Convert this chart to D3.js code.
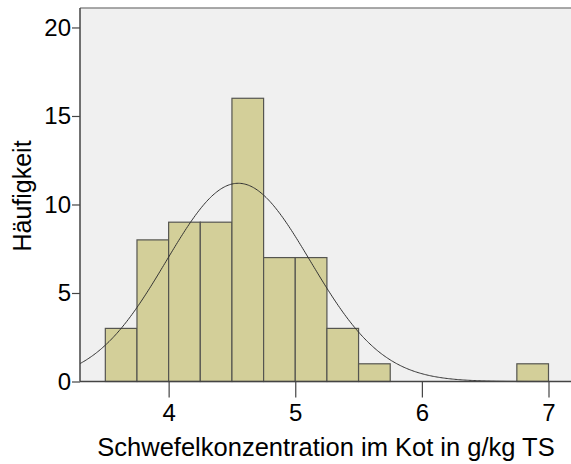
<!DOCTYPE html>
<html>
<head>
<meta charset="utf-8">
<script src="https://cdn.jsdelivr.net/npm/d3@7"></script>
<style>
  html, body { margin: 0; padding: 0; background: #ffffff; }
  svg { display: block; }
  text { font-family: "Liberation Sans", Arial, sans-serif; fill: #000; }
</style>
</head>
<body>
<svg id="chart" width="571" height="464"></svg>
<script>
// Histogram of sulphur concentration in faeces (bins of 0.25 g/kg DM)
const binStarts = [3.50, 3.75, 4.00, 4.25, 4.50, 4.75, 5.00, 5.25, 5.50, 5.75, 6.00, 6.25, 6.50, 6.75];
const binCounts = [3, 8, 9, 9, 16, 7, 7, 3, 1, 0, 0, 0, 0, 1];
const binWidth = 0.25;

// Fitted normal distribution
const fitMean = 4.55;
const fitSd = 0.57;

const xTicks = [4, 5, 6, 7];
const yTicks = [0, 5, 10, 15, 20];

const xTitle = "Schwefelkonzentration im Kot in g/kg TS";
const yTitle = "Häufigkeit";

const W = 571, H = 464;
const plot = { left: 80, top: 8, right: 571, bottom: 381.5 };

const svg = d3.select("#chart");

const x = d3.scaleLinear().domain([3.3, 7.0]).range([plot.left, 548.5]);
const y = d3.scaleLinear().domain([0, 21.1]).range([plot.bottom, plot.top]);

// plot background
svg.append("rect")
  .attr("x", plot.left).attr("y", plot.top)
  .attr("width", plot.right - plot.left).attr("height", plot.bottom - plot.top)
  .attr("fill", "#f0f0f0");

// top frame line
svg.append("line")
  .attr("x1", plot.left).attr("x2", plot.right)
  .attr("y1", plot.top).attr("y2", plot.top)
  .attr("stroke", "#8c8c8c").attr("stroke-width", 1.5);

// bars
const bins = binStarts.map((s, i) => ({ x0: s, x1: s + binWidth, n: binCounts[i] }))
  .filter(d => d.n > 0);

svg.append("g").selectAll("rect")
  .data(bins)
  .join("rect")
  .attr("x", d => x(d.x0))
  .attr("y", d => y(d.n))
  .attr("width", d => x(d.x1) - x(d.x0))
  .attr("height", d => y(0) - y(d.n))
  .attr("fill", "#d3cf99")
  .attr("stroke", "#555550")
  .attr("stroke-width", 1.2);

// normal curve scaled to the histogram
const nTotal = d3.sum(binCounts);
const normal = v => nTotal * binWidth / (fitSd * Math.sqrt(2 * Math.PI)) *
  Math.exp(-0.5 * Math.pow((v - fitMean) / fitSd, 2));
const xs = d3.range(x.domain()[0], x.invert(plot.right), 0.01);
svg.append("path")
  .datum(xs)
  .attr("fill", "none")
  .attr("stroke", "#333333")
  .attr("stroke-width", 1)
  .attr("d", d3.line().x(v => x(v)).y(v => y(normal(v))));

// x axis
const xAxis = svg.append("g")
  .attr("transform", `translate(0,${plot.bottom})`)
  .call(d3.axisBottom(x).tickValues(xTicks).tickFormat(d3.format("d"))
    .tickSize(16).tickPadding(6).tickSizeOuter(0));
xAxis.select(".domain").remove();
xAxis.selectAll(".tick line").attr("stroke", "#444").attr("stroke-width", 1.2);
xAxis.selectAll(".tick text").style("font-size", "24px")
  .style("font-family", "'Liberation Sans', Arial, sans-serif").attr("fill", "#000");
svg.append("line")
  .attr("x1", plot.left).attr("x2", plot.right)
  .attr("y1", plot.bottom).attr("y2", plot.bottom)
  .attr("stroke", "#444").attr("stroke-width", 1.5);

// y axis
const yAxis = svg.append("g")
  .attr("transform", `translate(${plot.left},0)`)
  .call(d3.axisLeft(y).tickValues(yTicks).tickFormat(d3.format("d"))
    .tickSize(8).tickPadding(1).tickSizeOuter(0));
yAxis.select(".domain").remove();
yAxis.selectAll(".tick line").attr("stroke", "#444").attr("stroke-width", 1.2);
yAxis.selectAll(".tick text").style("font-size", "24px")
  .style("font-family", "'Liberation Sans', Arial, sans-serif").attr("fill", "#000");
svg.append("line")
  .attr("x1", plot.left).attr("x2", plot.left)
  .attr("y1", plot.top).attr("y2", plot.bottom)
  .attr("stroke", "#444").attr("stroke-width", 1.5);

// axis titles
svg.append("text")
  .attr("x", 326).attr("y", 456)
  .attr("text-anchor", "middle")
  .style("font-size", "25.5px")
  .text(xTitle);

svg.append("text")
  .attr("transform", "translate(31,196) rotate(-90)")
  .attr("text-anchor", "middle")
  .style("font-size", "25px")
  .text(yTitle);
</script>
</body>
</html>
